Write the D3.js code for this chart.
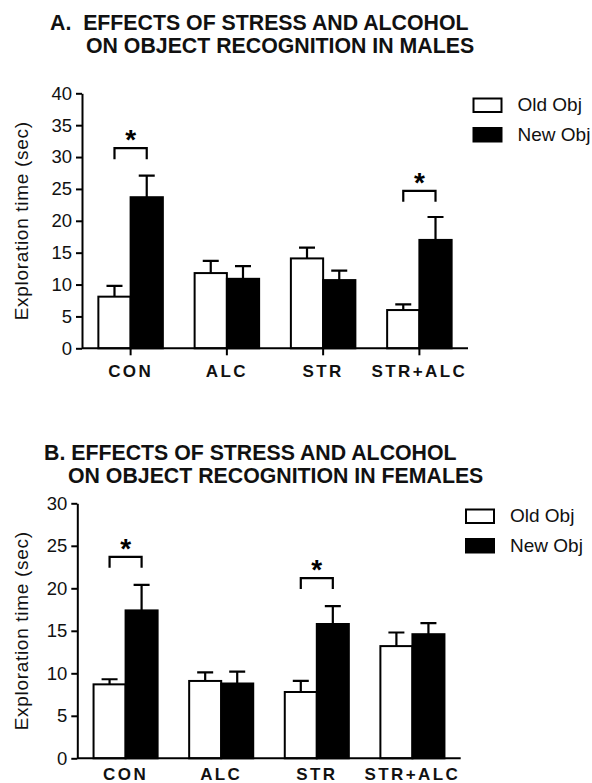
<!DOCTYPE html>
<html>
<head>
<meta charset="utf-8">
<script src="https://cdn.jsdelivr.net/npm/d3@7"></script>
<style>
  body { margin: 0; background: #fff; }
  svg { display: block; font-family: "Liberation Sans", Arial, sans-serif; }
</style>
</head>
<body>
<svg id="chart" width="592" height="783"></svg>
<script>
// categories and series
const groups = ["CON", "ALC", "STR", "STR+ALC"];
const seriesNames = ["Old Obj", "New Obj"];

// A. males (sec)
const maleOld = [8.1, 11.8, 14.1, 6.0];
const maleOldErr = [1.7, 1.9, 1.7, 0.9];
const maleNew = [23.7, 10.9, 10.7, 17.0];
const maleNewErr = [3.4, 2.0, 1.5, 3.6];
const maleSigGroups = ["CON", "STR+ALC"];
const maleSigLevels = [31.4, 24.7];

// B. females (sec)
const femaleOld = [8.7, 9.1, 7.8, 13.2];
const femaleOldErr = [0.6, 1.0, 1.3, 1.6];
const femaleNew = [17.4, 8.8, 15.8, 14.6];
const femaleNewErr = [3.0, 1.4, 2.1, 1.3];
const femaleSigGroups = ["CON", "STR"];
const femaleSigLevels = [23.7, 21.2];

const svg = d3.select("#chart");

function panel(opt) {
    const g = svg.append("g");

    const x = d3.scaleBand()
        .domain(groups)
        .range([opt.left, opt.right])
        .paddingInner(0.33)
        .paddingOuter(0.17);

    const xs = d3.scaleBand()
        .domain(seriesNames)
        .range([0, x.bandwidth()]);

    const y = d3.scaleLinear()
        .domain([0, opt.yMax])
        .range([opt.bottom, opt.top]);

    // title
    opt.title.forEach((t, i) => {
        g.append("text")
            .attr("x", opt.titleX[i])
            .attr("y", opt.titleY[i])
            .attr("font-size", 21.3)
            .attr("font-weight", "bold")
            .attr("fill", "#111")
            .style("white-space", "pre")
            .text(t);
    });

    // bars
    const rows = groups.map((c, i) => ({
        group: c,
        vals: [
            {s: seriesNames[0], v: opt.old[i], e: opt.oldErr[i]},
            {s: seriesNames[1], v: opt.neu[i], e: opt.neuErr[i]}
        ]
    }));

    const grp = g.selectAll(".grp")
        .data(rows)
        .enter()
        .append("g")
        .attr("transform", d => `translate(${x(d.group)},0)`);

    // error bars (upper only)
    grp.selectAll(".err")
        .data(d => d.vals)
        .enter()
        .append("path")
        .attr("d", d => {
            const cx = xs(d.s) + xs.bandwidth() / 2;
            return `M${cx},${y(d.v)}V${y(d.v + d.e)}M${cx - 8},${y(d.v + d.e)}H${cx + 8}`;
        })
        .attr("stroke", "#000")
        .attr("stroke-width", 2.2)
        .attr("fill", "none");

    grp.selectAll(".bar")
        .data(d => d.vals)
        .enter()
        .append("rect")
        .attr("x", d => xs(d.s))
        .attr("y", d => y(d.v))
        .attr("width", xs.bandwidth())
        .attr("height", d => y(0) - y(d.v))
        .attr("fill", d => d.s === seriesNames[0] ? "#fff" : "#000")
        .attr("stroke", "#000")
        .attr("stroke-width", 2);

    // significance brackets
    opt.sigGroups.forEach((c, i) => {
        const xa = x(c) + xs(seriesNames[0]) + xs.bandwidth() / 2;
        const xb = x(c) + xs(seriesNames[1]) + xs.bandwidth() / 2;
        const yt = y(opt.sigLevels[i]);
        g.append("path")
            .attr("d", `M${xa},${yt + 11}V${yt}H${xb}V${yt + 11}`)
            .attr("fill", "none")
            .attr("stroke", "#000")
            .attr("stroke-width", 2.2);
        g.append("text")
            .attr("x", (xa + xb) / 2)
            .attr("y", yt + 1)
            .attr("text-anchor", "middle")
            .attr("font-size", 28)
            .attr("font-weight", "bold")
            .text("*");
    });

    // y axis
    const yAxis = d3.axisLeft(y)
        .tickValues(d3.range(0, opt.yMax + 1, 5))
        .tickSize(6)
        .tickSizeOuter(0)
        .tickPadding(4);

    const ya = g.append("g")
        .attr("transform", `translate(${opt.left},0)`)
        .call(yAxis);
    ya.select(".domain").attr("stroke-width", 2);
    ya.selectAll(".tick line").attr("stroke-width", 2);
    ya.selectAll(".tick text")
        .attr("font-size", 18.5)
        .attr("font-family", "Liberation Sans, Arial, sans-serif")
        .attr("fill", "#111");

    g.append("text")
        .attr("transform", `translate(28,${(opt.top + opt.bottom) / 2}) rotate(-90)`)
        .attr("text-anchor", "middle")
        .attr("font-size", 19)
        .attr("letter-spacing", 0.7)
        .attr("fill", "#111")
        .text("Exploration time (sec)");

    // x axis
    const xAxis = d3.axisBottom(x)
        .tickSize(opt.xTick)
        .tickSizeOuter(0)
        .tickPadding(opt.labelGap);

    const xa = g.append("g")
        .attr("transform", `translate(0,${opt.bottom})`)
        .call(xAxis);
    xa.select(".domain")
        .attr("d", `M${opt.left},0H${opt.right}`)
        .attr("stroke-width", 2);
    xa.selectAll(".tick line").attr("stroke-width", 2);
    xa.selectAll(".tick text")
        .attr("font-size", 17)
        .attr("font-weight", "bold")
        .attr("letter-spacing", 2.4)
        .attr("font-family", "Liberation Sans, Arial, sans-serif")
        .attr("fill", "#111")
        .attr("dy", null)
        .attr("y", opt.labelGap);

    // legend
    const leg = g.append("g")
        .selectAll(".leg")
        .data(seriesNames)
        .enter()
        .append("g")
        .attr("transform", (d, i) => `translate(${opt.legX},${opt.legY + i * 29.5})`);

    leg.append("rect")
        .attr("x", 0)
        .attr("y", 0)
        .attr("width", 28)
        .attr("height", 13.5)
        .attr("fill", (d, i) => i === 0 ? "#fff" : "#000")
        .attr("stroke", "#000")
        .attr("stroke-width", 2);

    leg.append("text")
        .attr("x", 44)
        .attr("y", 12.5)
        .attr("font-size", 19)
        .attr("fill", "#111")
        .text(d => d);
}

panel({
    title: ["A.  EFFECTS OF STRESS AND ALCOHOL", "ON OBJECT RECOGNITION IN MALES"],
    titleX: [50, 86],
    titleY: [30, 53],
    left: 82, right: 468, top: 93.3, bottom: 348.3, yMax: 40,
    old: maleOld, oldErr: maleOldErr, neu: maleNew, neuErr: maleNewErr,
    sigGroups: maleSigGroups, sigLevels: maleSigLevels,
    xTick: 7, labelGap: 29,
    legX: 473.5, legY: 98.5
});

panel({
    title: ["B. EFFECTS OF STRESS AND ALCOHOL", "ON OBJECT RECOGNITION IN FEMALES"],
    titleX: [44, 68],
    titleY: [460, 483],
    left: 77.3, right: 460.7, top: 503.3, bottom: 758.3, yMax: 30,
    old: femaleOld, oldErr: femaleOldErr, neu: femaleNew, neuErr: femaleNewErr,
    sigGroups: femaleSigGroups, sigLevels: femaleSigLevels,
    xTick: 0, labelGap: 22,
    legX: 466, legY: 509.5
});
</script>
</body>
</html>
